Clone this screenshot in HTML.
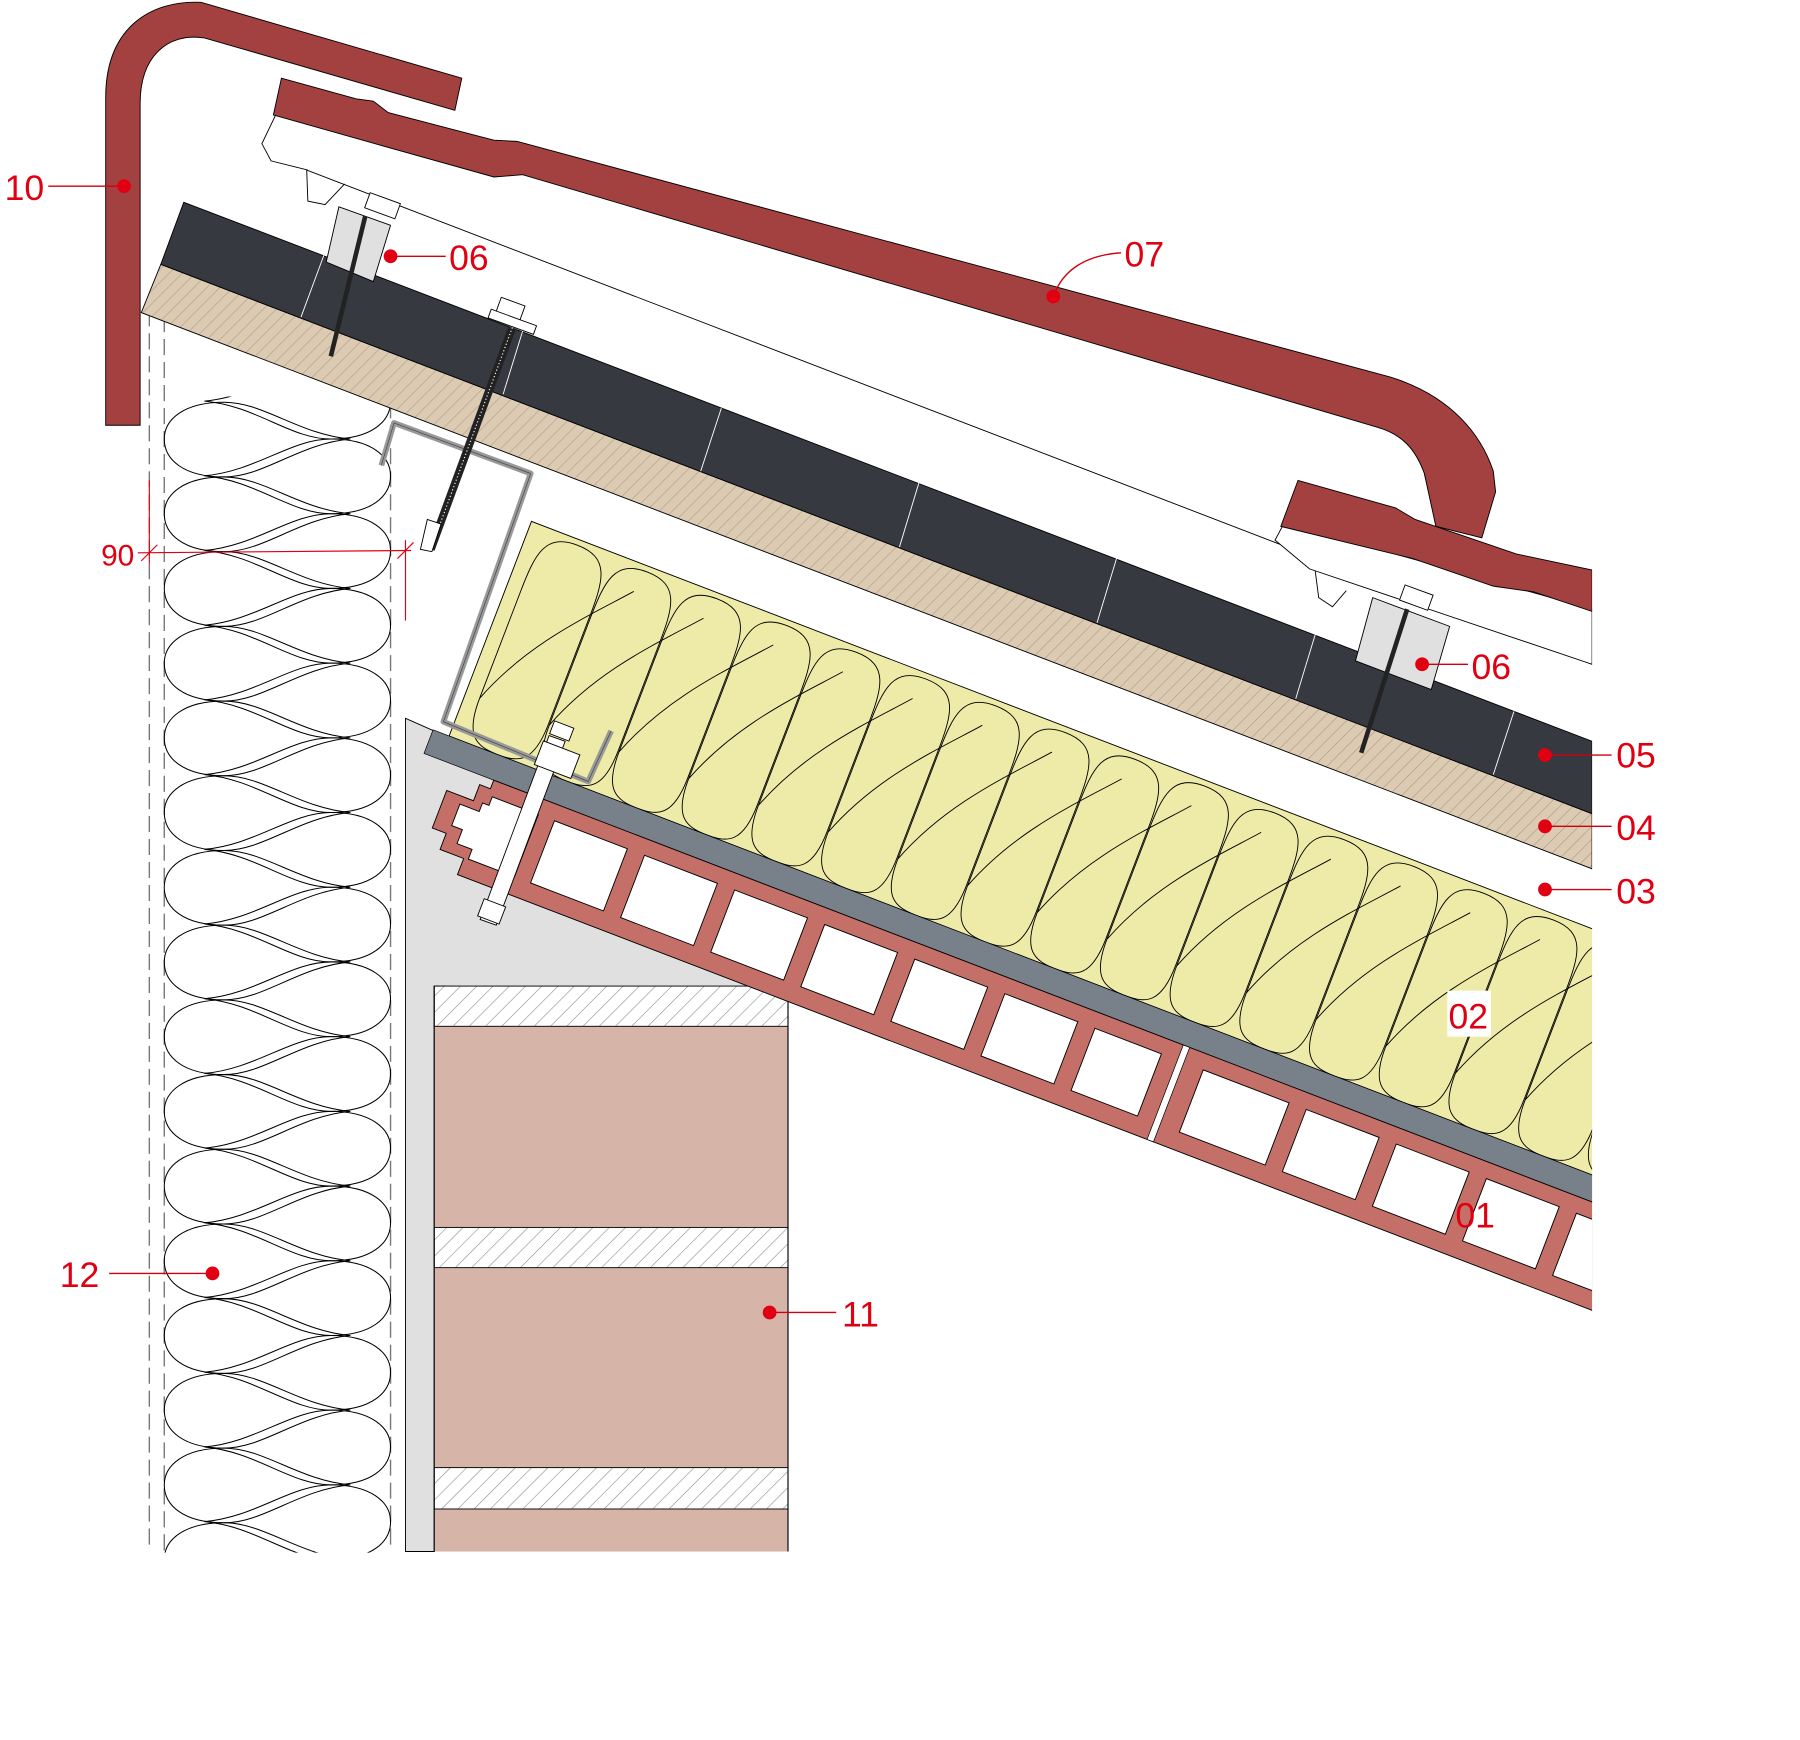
<!DOCTYPE html>
<html><head><meta charset="utf-8"><style>
html,body{margin:0;padding:0;background:#fff;}
svg{display:block;}
.l{font-family:"Liberation Sans",sans-serif;font-size:31px;fill:#e00012;}
</style></head><body>
<svg width="1800" height="1740" viewBox="0 0 1567 1514" preserveAspectRatio="none" xmlns="http://www.w3.org/2000/svg">
<defs>
<pattern id="hb" patternUnits="userSpaceOnUse" width="8" height="8" patternTransform="rotate(45)">
<rect width="8" height="8" fill="#dccbb2"/><line x1="0" y1="0" x2="0" y2="8" stroke="#a89a88" stroke-width="1"/></pattern>
<pattern id="hw" patternUnits="userSpaceOnUse" width="10" height="10" patternTransform="rotate(45)">
<rect width="10" height="10" fill="#fff"/><line x1="0" y1="0" x2="0" y2="10" stroke="#888" stroke-width="1"/></pattern>
<clipPath id="cr"><rect x="0" y="0" width="1386" height="1514"/></clipPath>
<clipPath id="cy"><rect x="15" y="-200" width="1200" height="200"/></clipPath>
<clipPath id="cw"><rect x="140" y="345" width="205" height="1006"/></clipPath>
<path id="lobe" d="M305,32 C260,28 230,0 195,0 C160,0 143,15 143,32 C143,50 160,65 195,65 C230,65 260,36 305,32 Z" fill="none" stroke="#000" stroke-width="0.9"/>
<path id="yl" d="M0,-195 C-30,-195 -32,-175 -32,-140 L-32,-40 C-32,-5 -20,0 0,0 C20,0 32,-5 32,-40 L32,-140 C32,-175 30,-195 0,-195 Z M-32,-40 C-10,-100 30,-140 60,-175" fill="none" stroke="#000" stroke-width="0.8"/>
</defs>

<!-- left insulation wall -->
<line x1="130" y1="270" x2="130" y2="1350" stroke="#777" stroke-width="1.2" stroke-dasharray="14,6"/>
<line x1="143" y1="275" x2="143" y2="1350" stroke="#777" stroke-width="1.2" stroke-dasharray="14,6"/>
<line x1="340" y1="350" x2="340" y2="1350" stroke="#777" stroke-width="1.2" stroke-dasharray="14,6"/>
<g clip-path="url(#cw)">
<use href="#lobe" y="350"/><use href="#lobe" transform="translate(483,382) scale(-1,1)"/>
<use href="#lobe" y="415"/><use href="#lobe" transform="translate(483,447) scale(-1,1)"/>
<use href="#lobe" y="480"/><use href="#lobe" transform="translate(483,512) scale(-1,1)"/>
<use href="#lobe" y="545"/><use href="#lobe" transform="translate(483,577) scale(-1,1)"/>
<use href="#lobe" y="610"/><use href="#lobe" transform="translate(483,642) scale(-1,1)"/>
<use href="#lobe" y="675"/><use href="#lobe" transform="translate(483,707) scale(-1,1)"/>
<use href="#lobe" y="740"/><use href="#lobe" transform="translate(483,772) scale(-1,1)"/>
<use href="#lobe" y="805"/><use href="#lobe" transform="translate(483,837) scale(-1,1)"/>
<use href="#lobe" y="870"/><use href="#lobe" transform="translate(483,902) scale(-1,1)"/>
<use href="#lobe" y="935"/><use href="#lobe" transform="translate(483,967) scale(-1,1)"/>
<use href="#lobe" y="1000"/><use href="#lobe" transform="translate(483,1032) scale(-1,1)"/>
<use href="#lobe" y="1065"/><use href="#lobe" transform="translate(483,1097) scale(-1,1)"/>
<use href="#lobe" y="1130"/><use href="#lobe" transform="translate(483,1162) scale(-1,1)"/>
<use href="#lobe" y="1195"/><use href="#lobe" transform="translate(483,1227) scale(-1,1)"/>
<use href="#lobe" y="1260"/><use href="#lobe" transform="translate(483,1292) scale(-1,1)"/>
<use href="#lobe" y="1325"/>
<use href="#lobe" transform="translate(483,317) scale(-1,1)"/>
</g>

<!-- grey backfill -->
<polygon points="353,625 500,690 662,862 378,858 378,1350 353,1350" fill="#e0e0e0" stroke="#000" stroke-width="0.8"/>

<!-- brick column -->
<rect x="378" y="858" width="308" height="492" fill="#d6b5a8"/>
<rect x="378" y="858" width="308" height="35" fill="url(#hw)" stroke="#000" stroke-width="0.8"/>
<rect x="378" y="1068" width="308" height="35" fill="url(#hw)" stroke="#000" stroke-width="0.8"/>
<rect x="378" y="1277" width="308" height="36" fill="url(#hw)" stroke="#000" stroke-width="0.8"/>
<line x1="378" y1="858" x2="378" y2="1350" stroke="#000"/><line x1="686" y1="858" x2="686" y2="1350" stroke="#000"/>

<g clip-path="url(#cr)">
<g transform="translate(377,635) rotate(21)">
 <rect x="15" y="-200" width="1200" height="200" fill="#eeeaa8" stroke="#000" stroke-width="0.8"/>
 <g clip-path="url(#cy)">
  <use href="#yl" x="60"/><use href="#yl" x="125"/><use href="#yl" x="190"/><use href="#yl" x="255"/>
  <use href="#yl" x="320"/><use href="#yl" x="385"/><use href="#yl" x="450"/><use href="#yl" x="515"/>
  <use href="#yl" x="580"/><use href="#yl" x="645"/><use href="#yl" x="710"/><use href="#yl" x="775"/>
  <use href="#yl" x="840"/><use href="#yl" x="905"/><use href="#yl" x="970"/><use href="#yl" x="1035"/>
  <use href="#yl" x="1100"/><use href="#yl" x="1165"/>
 </g>
 <rect x="0" y="0" width="1200" height="22" fill="#78808a" stroke="#000" stroke-width="0.6"/>
 <!-- block -->
 <path d="M65,22 L1200,22 L1200,110 L65,110 L65,95 L43,95 L43,80 L30,80 L30,45 L55,45 L55,30 L65,30 Z" fill="#c47068" stroke="#000" stroke-width="0.8"/>
 <path d="M69,36 L112,36 L112,94 L69,94 L69,85 L55,85 L55,72 L45,72 L45,52 L63,52 L63,44 L69,44 Z" fill="#fff" stroke="#000" stroke-width="0.8"/>
 <g fill="#fff" stroke="#000" stroke-width="0.8">
  <rect x="127" y="36" width="68" height="58"/><rect x="211" y="36" width="68" height="58"/>
  <rect x="295" y="36" width="68" height="58"/><rect x="379" y="36" width="68" height="58"/>
  <rect x="463" y="36" width="68" height="58"/><rect x="547" y="36" width="68" height="58"/>
  <rect x="631" y="36" width="62" height="58"/>
  <rect x="732" y="36" width="80" height="58"/>
  <rect x="828" y="36" width="68" height="58"/><rect x="912" y="36" width="68" height="58"/>
  <rect x="996" y="36" width="68" height="58"/><rect x="1080" y="36" width="68" height="58"/>
  <rect x="1164" y="36" width="68" height="58"/>
 </g>
 <rect x="708" y="22" width="6" height="88" fill="#fff" stroke="#000" stroke-width="0.6"/>
</g>

<!-- beige deck 04 -->
<polygon points="140,230 1386,708 1386,756 123,272" fill="url(#hb)" stroke="#000" stroke-width="0.8"/>
<!-- dark 05 -->
<polygon points="160,176 1386,645 1386,708 140,230" fill="#363940" stroke="#000" stroke-width="0.8"/>
<g stroke="#fff" stroke-width="0.8">
<line x1="282" y1="222" x2="262" y2="276"/><line x1="455" y1="288" x2="438" y2="343"/>
<line x1="628" y1="355" x2="610" y2="410"/><line x1="800" y1="420" x2="783" y2="476"/>
<line x1="972" y1="486" x2="955" y2="542"/><line x1="1145" y1="552" x2="1128" y2="608"/>
<line x1="1318" y1="619" x2="1300" y2="674"/>
</g>

<!-- white body of tiles -->
<path d="M245,68 L1230,342 L1250,460 L1215,420 L268,148 L236,140 L228,125 Z" fill="#fff" stroke="none"/>
<path d="M240,100 L228,125 L236,140 L268,148" fill="none" stroke="#000" stroke-width="0.8"/>
<path d="M267,148 L268,175 L283,178 L300,160" fill="#fff" stroke="#000" stroke-width="0.8"/>
<line x1="267" y1="148" x2="1386" y2="578" stroke="#000" stroke-width="0.8"/>
<path d="M1240,412 L1250,455" stroke="#000" stroke-width="0.8"/>
<!-- tile 2 body -->
<path d="M1118,455 L1386,530 L1386,578 L1140,495 L1110,470 Z" fill="#fff" stroke="#000" stroke-width="0.8"/>
<path d="M1145,497 L1148,520 L1160,528 L1172,514" fill="#fff" stroke="#000" stroke-width="0.8"/>
<!-- tile 2 red -->
<path d="M1130,418 L1215,442 L1232,452 L1320,482 L1386,496 L1386,532 L1335,515 L1300,510 L1230,486 L1115,458 Z" fill="#a34040" stroke="#000" stroke-width="0.8"/>
<!-- tile 07 red -->
<path d="M245,68 L310,86 L325,88 L338,98 L430,122 L450,123 L1210,328 C1265,345 1290,380 1300,410 L1302,428 L1290,468 L1250,458 L1240,412 C1232,390 1220,378 1200,372 L455,152 L430,154 L330,126 L238,100 Z" fill="#a34040" stroke="#000" stroke-width="0.8"/>
</g>

<!-- cap 10 -->
<path d="M92,370 L92,85 C92,25 130,0 175,2 L402,68 L396,96 L178,33 C145,28 122,50 122,90 L122,370 Z" fill="#a34040" stroke="#000" stroke-width="0.8"/>

<!-- fixing blocks 06 -->
<polygon points="295,180 340,196 325,245 284,228" fill="#e0e0e0" stroke="#000" stroke-width="0.8"/>
<rect x="319" y="172" width="28" height="14" fill="#fff" stroke="#000" stroke-width="0.8" transform="rotate(20 333 179)"/>
<line x1="318" y1="188" x2="288" y2="310" stroke="#222" stroke-width="4"/>
<polygon points="1195,520 1262,545 1246,600 1180,575" fill="#e0e0e0" stroke="#000" stroke-width="0.8"/>
<rect x="1220" y="513" width="26" height="14" fill="#fff" stroke="#000" stroke-width="0.8" transform="rotate(20 1233 520)"/>
<line x1="1225" y1="530" x2="1185" y2="655" stroke="#222" stroke-width="4"/>

<!-- z-bracket -->
<path d="M332,405 L343,368 L462,412 L386,628 L512,680 L532,636" fill="none" stroke="#999" stroke-width="5" stroke-linejoin="round"/>
<path d="M332,405 L343,368 L462,412 L386,628 L512,680 L532,636" fill="none" stroke="#444" stroke-width="0.6"/>
<line x1="446" y1="285" x2="375" y2="478" stroke="#222" stroke-width="7"/>
<line x1="446" y1="285" x2="375" y2="478" stroke="#fff" stroke-width="1" stroke-dasharray="1,2"/>
<rect x="433" y="262" width="22" height="16" fill="#fff" stroke="#000" stroke-width="0.8" transform="rotate(20 444 270)"/>
<rect x="425" y="276" width="42" height="8" fill="#fff" stroke="#000" stroke-width="0.8" transform="rotate(20 446 280)"/>
<polygon points="372,452 384,456 376,480 366,478" fill="#fff" stroke="#000" stroke-width="0.8"/>
<!-- bolt -->
<polygon points="478,640 492,645 432,805 418,800" fill="#fff" stroke="#000" stroke-width="0.8"/>
<rect x="468" y="650" width="34" height="22" fill="#fff" stroke="#000" stroke-width="0.8" transform="rotate(21 485 661)"/>
<rect x="480" y="630" width="18" height="12" fill="#fff" stroke="#000" stroke-width="0.8" transform="rotate(21 489 636)"/>
<rect x="418" y="785" width="20" height="16" fill="#fff" stroke="#000" stroke-width="0.8" transform="rotate(21 428 793)"/>

<!-- dimension 90 -->
<g stroke="#e00012" stroke-width="1">
<line x1="120" y1="481" x2="358" y2="479"/>
<line x1="130" y1="418" x2="130" y2="490"/>
<line x1="353" y1="470" x2="353" y2="540"/>
<line x1="123" y1="488" x2="137" y2="474"/><line x1="346" y1="486" x2="360" y2="472"/>
</g>
<text class="l" x="88" y="492" style="font-size:26px">90</text>

<!-- labels -->
<g stroke="#d00010" stroke-width="1.2" fill="none">
<line x1="42" y1="162" x2="108" y2="162"/>
<line x1="340" y1="223" x2="388" y2="223"/>
<path d="M917,258 C925,235 945,222 976,220"/>
<line x1="1238" y1="578" x2="1278" y2="578"/>
<line x1="1345" y1="657" x2="1403" y2="657"/>
<line x1="1345" y1="719" x2="1403" y2="719"/>
<line x1="1345" y1="774" x2="1403" y2="774"/>
<line x1="670" y1="1142" x2="728" y2="1142"/>
<line x1="95" y1="1108" x2="185" y2="1108"/>
</g>
<g fill="#e00012">
<circle cx="108" cy="162" r="6"/><circle cx="340" cy="223" r="6"/><circle cx="917" cy="258" r="6"/>
<circle cx="1238" cy="578" r="6"/><circle cx="1345" cy="657" r="6"/><circle cx="1345" cy="719" r="6"/>
<circle cx="1345" cy="774" r="6"/><circle cx="670" cy="1142" r="6"/><circle cx="185" cy="1108" r="6"/>
</g>
<text class="l" x="4" y="174">10</text>
<text class="l" x="391" y="235">06</text>
<text class="l" x="979" y="232">07</text>
<text class="l" x="1281" y="591">06</text>
<text class="l" x="1407" y="668">05</text>
<text class="l" x="1407" y="731">04</text>
<text class="l" x="1407" y="786">03</text>
<rect x="1260" y="862" width="38" height="40" fill="#fff"/>
<text class="l" x="1261" y="895">02</text>
<text class="l" x="1267" y="1068">01</text>
<text class="l" x="733" y="1154">11</text>
<text class="l" x="52" y="1120">12</text>
</svg>
</body></html>
